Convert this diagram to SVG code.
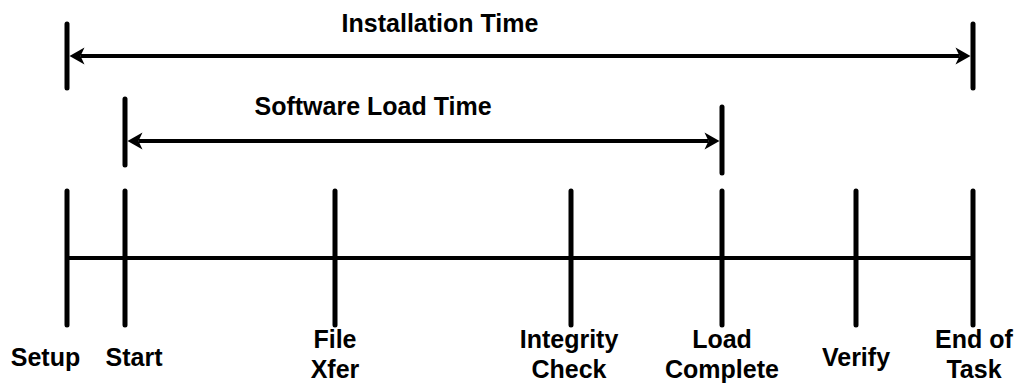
<svg xmlns="http://www.w3.org/2000/svg" width="1019" height="384" viewBox="0 0 1019 384">
  <style>
    .tick { stroke: #000; stroke-width: 5; stroke-linecap: round; fill: none; }
    .axis { stroke: #000; stroke-width: 4; fill: none; }
    .span { stroke: #000; stroke-width: 4; fill: none; marker-start: url(#head-start); marker-end: url(#head-end); }
    text { font-family: "Liberation Sans", Arial, sans-serif; font-weight: bold; font-size: 25px; fill: #000; text-anchor: middle; }
  </style>
  <defs>
    <marker id="head-end" markerUnits="userSpaceOnUse" viewBox="-6 -10 20 20" refX="0" refY="0" markerWidth="20" markerHeight="20" orient="auto">
      <path d="M11,0 L-4,-8.5 L0,0 L-4,8.5 Z" fill="#000"/>
    </marker>
    <marker id="head-start" markerUnits="userSpaceOnUse" viewBox="-6 -10 20 20" refX="0" refY="0" markerWidth="20" markerHeight="20" orient="auto-start-reverse">
      <path d="M11,0 L-4,-8.5 L0,0 L-4,8.5 Z" fill="#000"/>
    </marker>
  </defs>

  <!-- duration spans -->
  <g id="connectors">
    <line class="tick" x1="67" y1="24" x2="67" y2="88"/>
    <line class="tick" x1="973" y1="24" x2="973" y2="88"/>
    <line class="span" x1="80.5" y1="56" x2="959.5" y2="56"/>

    <line class="tick" x1="125" y1="99" x2="125" y2="165"/>
    <line class="tick" x1="722" y1="107" x2="722" y2="173"/>
    <line class="span" x1="138.5" y1="141" x2="708.5" y2="141"/>

    <!-- time axis -->
    <line class="axis" x1="67" y1="258" x2="973" y2="258"/>
  </g>

  <g id="span-installation">
    <text x="440" y="32">Installation Time</text>
  </g>
  <g id="span-software-load">
    <text x="373" y="115">Software Load Time</text>
  </g>

  <!-- milestones -->
  <g id="setup">
    <line class="tick" x1="67" y1="191" x2="67" y2="325"/>
    <text x="45.5" y="366">Setup</text>
  </g>
  <g id="start">
    <line class="tick" x1="125" y1="191" x2="125" y2="325"/>
    <text x="134" y="366">Start</text>
  </g>
  <g id="file-xfer">
    <line class="tick" x1="335" y1="191" x2="335" y2="325"/>
    <text x="335" y="348">File</text>
    <text x="335" y="378">Xfer</text>
  </g>
  <g id="integrity-check">
    <line class="tick" x1="571" y1="191" x2="571" y2="325"/>
    <text x="569" y="348">Integrity</text>
    <text x="569" y="378">Check</text>
  </g>
  <g id="load-complete">
    <line class="tick" x1="722" y1="191" x2="722" y2="325"/>
    <text x="722" y="348">Load</text>
    <text x="722" y="378">Complete</text>
  </g>
  <g id="verify">
    <line class="tick" x1="856" y1="191" x2="856" y2="325"/>
    <text x="856" y="366">Verify</text>
  </g>
  <g id="end-of-task">
    <line class="tick" x1="973" y1="191" x2="973" y2="325"/>
    <text x="974" y="348">End of</text>
    <text x="974" y="378">Task</text>
  </g>
</svg>
